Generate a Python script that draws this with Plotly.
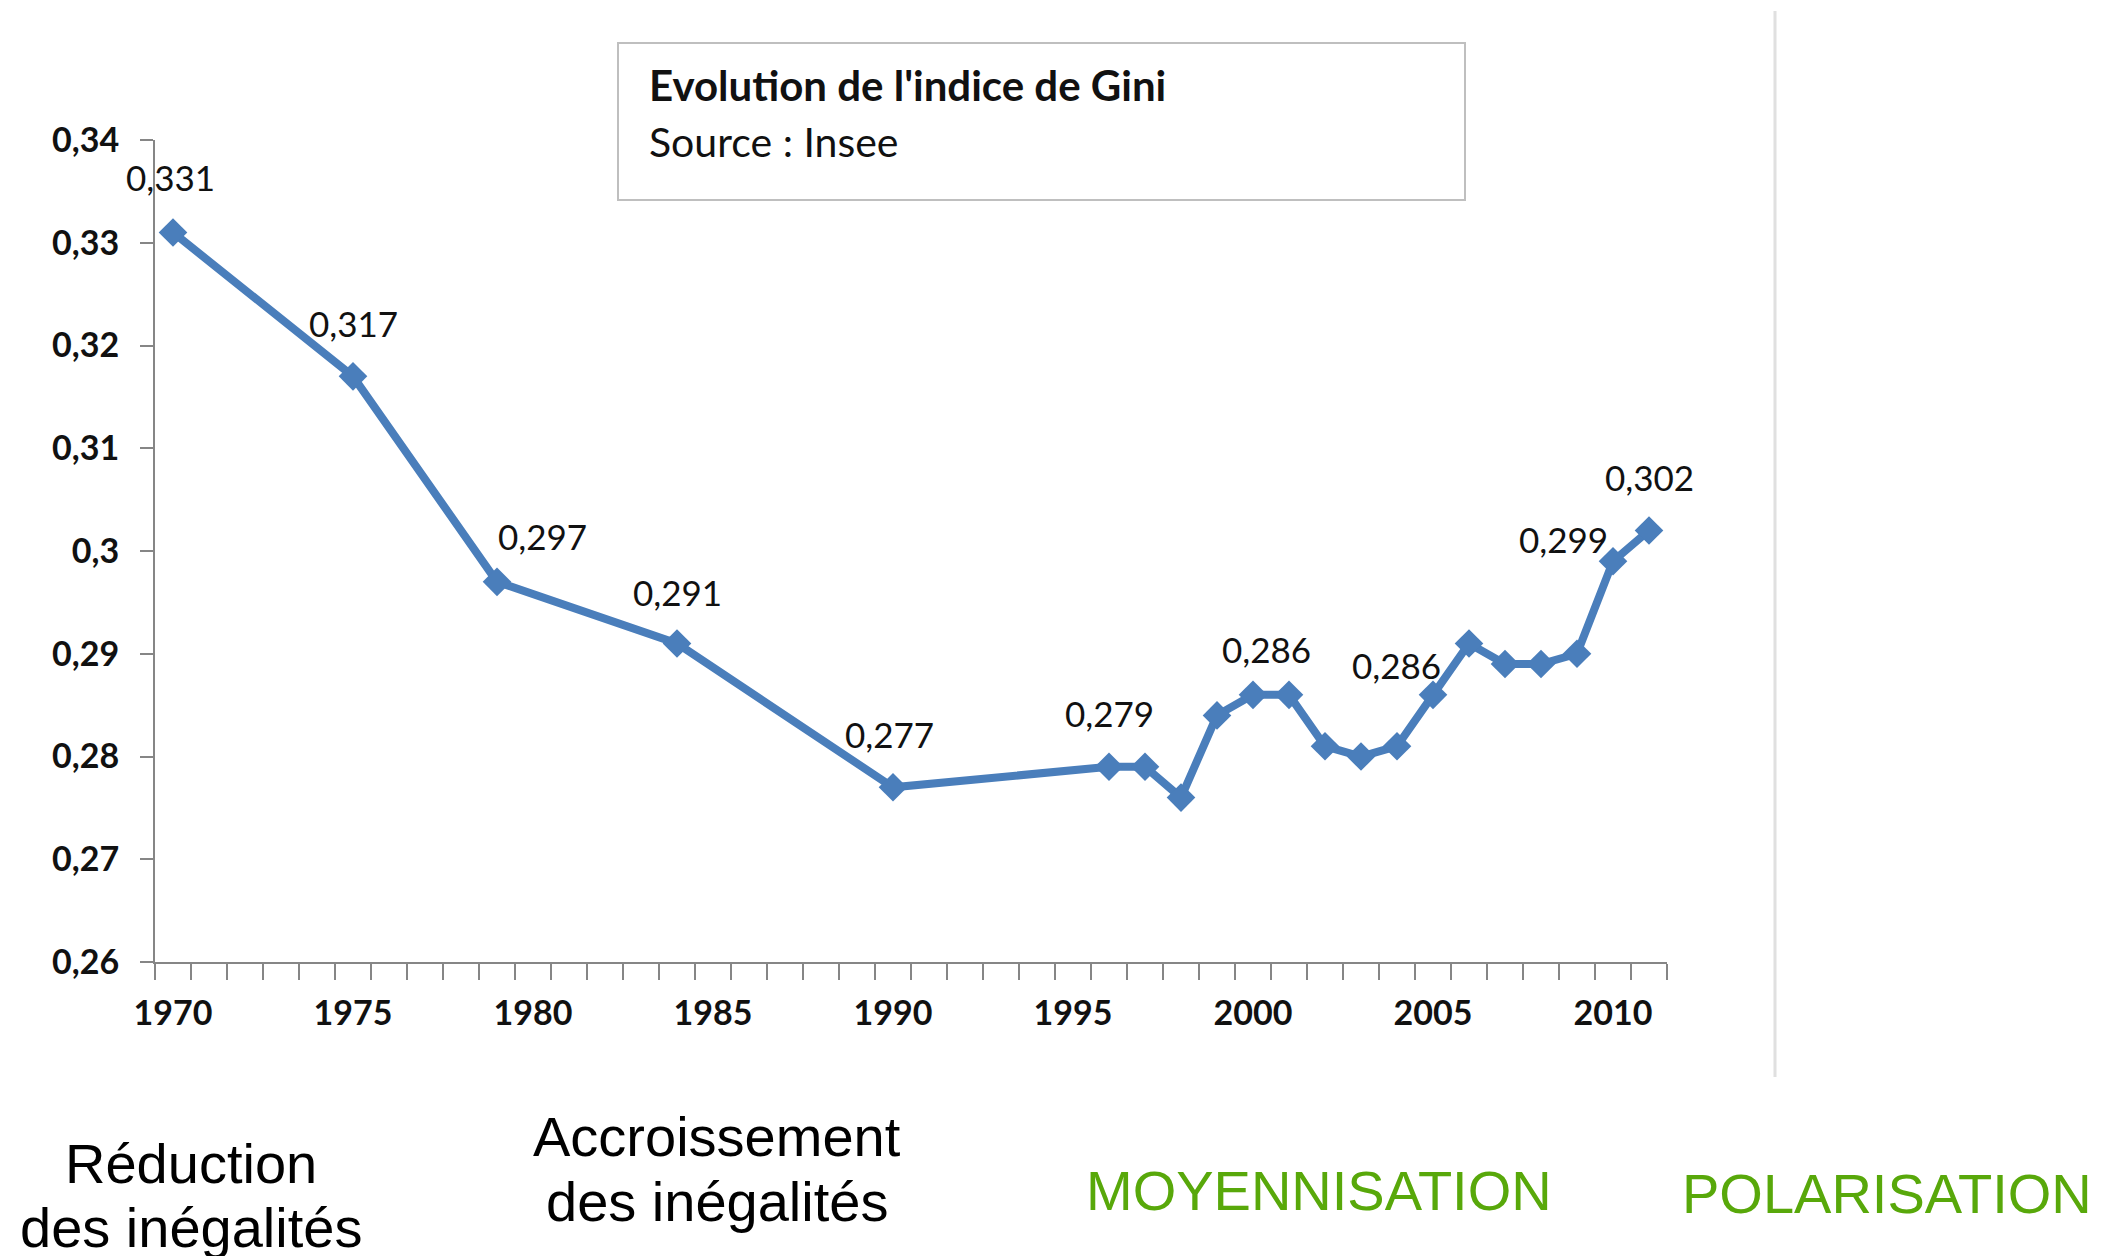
import plotly.graph_objects as go

years = [1970, 1975, 1979, 1984, 1990, 1996, 1997, 1998, 1999, 2000, 2001,
         2002, 2003, 2004, 2005, 2006, 2007, 2008, 2009, 2010, 2011]
gini = [0.331, 0.317, 0.297, 0.291, 0.277, 0.279, 0.279, 0.276, 0.284, 0.286, 0.286,
        0.281, 0.280, 0.281, 0.286, 0.291, 0.289, 0.289, 0.290, 0.299, 0.302]

# labelled points and label offsets (px)
label_years = [1970, 1975, 1979, 1984, 1990, 1996, 2000, 2005, 2010, 2011]
label_dx = [-3, 0, 45, 0, -4, 0, 13, -37, -50, 0]
label_dy = [55, 53, 46, 51, 53, 54, 46, 30, 22, 53]

y_ticks = [0.26, 0.27, 0.28, 0.29, 0.30, 0.31, 0.32, 0.33, 0.34]
y_ticktext = ["0,26", "0,27", "0,28", "0,29", "0,3", "0,31", "0,32", "0,33", "0,34"]
x_ticks = [1970, 1975, 1980, 1985, 1990, 1995, 2000, 2005, 2010]

title_text = "Evolution de l'indice de Gini"
source_text = "Source : Insee"

W, H = 2121, 1256
OFF = 8  # page body margin
PL, PR, PT, PB = 155, 1667, 140, 962  # target plot-area edges in page pixels
L, R, T, B = PL - OFF, W - (PR - OFF), PT - OFF, H - (PB - OFF)
PW, PH = W - L - R, H - T - B


def px(x):
    return (x - OFF - L) / PW


def py(y):
    return (H - B - (y - OFF)) / PH


BLUE = "#4a7ebb"
AXIS = "#868686"
GREEN = "#58a80a"

fig = go.Figure()
fig.add_trace(go.Scatter(
    x=years, y=gini, mode="lines+markers",
    line=dict(color=BLUE, width=8),
    marker=dict(symbol="diamond", size=22, color=BLUE),
    hoverinfo="skip", showlegend=False,
))

annotations = []
for yr, dx, dy in zip(label_years, label_dx, label_dy):
    v = gini[years.index(yr)]
    annotations.append(dict(
        x=yr, y=v, xref="x", yref="y", text=f"{v:.3f}".replace(".", ","),
        showarrow=False, xshift=dx, yshift=dy,
        font=dict(family="Lato", size=35, color="#111111"),
    ))

# text box content
annotations.append(dict(x=px(647), y=py(85), xref="paper", yref="paper",
                        text="<b>" + title_text + "</b>", showarrow=False,
                        xanchor="left", yanchor="middle",
                        font=dict(family="Lato", size=42, color="#111111")))
annotations.append(dict(x=px(647), y=py(141), xref="paper", yref="paper",
                        text=source_text, showarrow=False,
                        xanchor="left", yanchor="middle",
                        font=dict(family="Lato", size=41, color="#111111")))

bottom = [
    ("Réduction", 191, 1163, "black"),
    ("des inégalités", 191, 1227, "black"),
    ("Accroissement", 717, 1136, "black"),
    ("des inégalités", 717, 1201, "black"),
    ("MOYENNISATION", 1319, 1190, GREEN),
    ("POLARISATION", 1887, 1193, GREEN),
]
for txt, x, y, c in bottom:
    annotations.append(dict(x=px(x), y=py(y), xref="paper", yref="paper",
                            text=txt, showarrow=False, xanchor="center",
                            yanchor="middle",
                            font=dict(family="Liberation Sans", size=56, color=c)))

shapes = [
    dict(type="rect", xref="paper", yref="paper",
         x0=px(618), x1=px(1465), y0=py(200), y1=py(43),
         line=dict(color="#bfbfbf", width=2), fillcolor="rgba(0,0,0,0)"),
    dict(type="line", xref="paper", yref="paper",
         x0=px(1775), x1=px(1775), y0=py(1077), y1=py(11),
         line=dict(color="#e0e0e0", width=3)),
]

fig.update_layout(
    width=W, height=H,
    margin=dict(l=L, r=R, t=T, b=B, pad=0),
    paper_bgcolor="white", plot_bgcolor="white",
    annotations=annotations, shapes=shapes,
    xaxis=dict(
        range=[1969.5, 2011.5], tickvals=x_ticks, ticktext=[str(v) for v in x_ticks],
        ticks="", showgrid=False, zeroline=False,
        showline=True, linecolor=AXIS, linewidth=2,
        tickfont=dict(family="Lato", size=34, color="#111111", weight="bold"),
        ticklabelstandoff=20,
        minor=dict(ticks="outside", tick0=1969.5, dtick=1, ticklen=16,
                   tickwidth=2, tickcolor=AXIS, showgrid=False),
    ),
    yaxis=dict(
        range=[0.26, 0.34], tickvals=y_ticks, ticktext=y_ticktext,
        ticks="outside", ticklen=13, tickwidth=2, tickcolor=AXIS,
        showgrid=False, zeroline=False,
        showline=True, linecolor=AXIS, linewidth=2,
        tickfont=dict(family="Lato", size=34, color="#111111", weight="bold"),
        ticklabelstandoff=14,
    ),
)

fig.write_html("out.html")
